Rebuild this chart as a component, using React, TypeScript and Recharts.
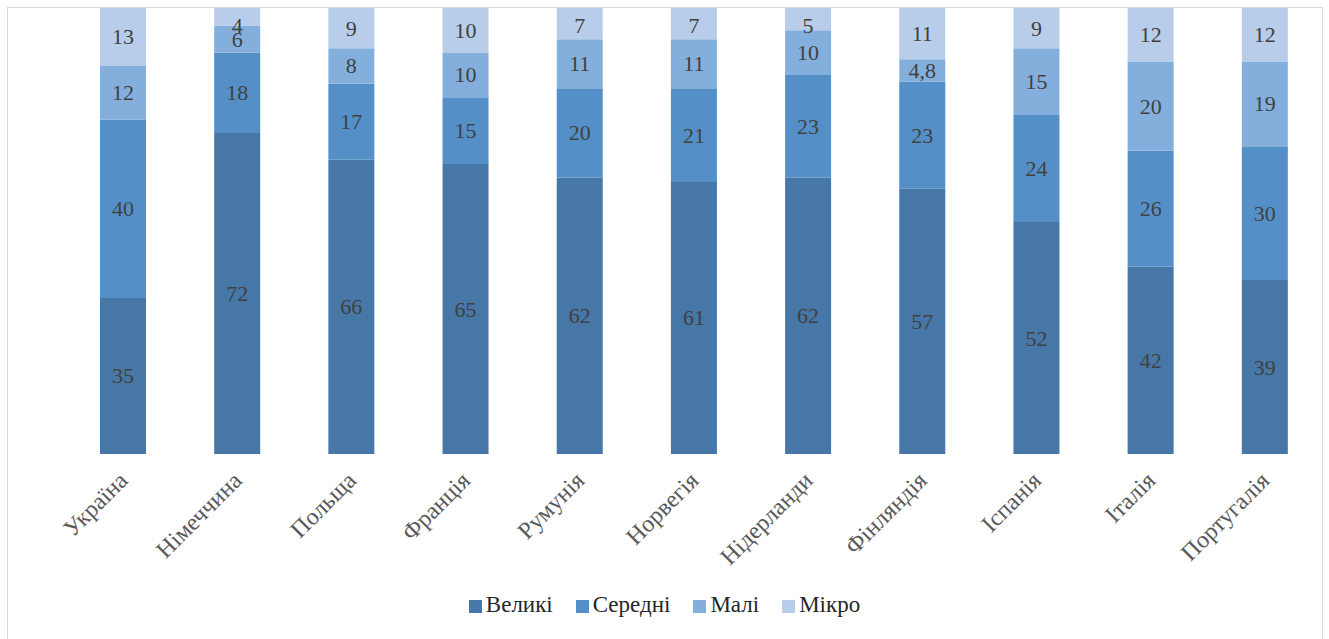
import React from 'react';
import {Bar, BarChart, LabelList, Legend, XAxis, YAxis} from 'recharts';

const countries = ['Україна', 'Німеччина', 'Польща', 'Франція', 'Румунія', 'Норвегія', 'Нідерланди', 'Фінляндія', 'Іспанія', 'Італія', 'Португалія'];
const large = [35, 72, 66, 65, 62, 61, 62, 57, 52, 42, 39];
const medium = [40, 18, 17, 15, 20, 21, 23, 23, 24, 26, 30];
const small = [12, 6, 8, 10, 11, 11, 10, 4.8, 15, 20, 19];
const micro = [13, 4, 9, 10, 7, 7, 5, 11, 9, 12, 12];

const seriesNames = ['Великі', 'Середні', 'Малі', 'Мікро'];
const seriesColors = ['#4677a7', '#5490c7', '#84afdc', '#b7cde9'];

const data = countries.map((name, i) => ({
  name,
  large: large[i],
  medium: medium[i],
  small: small[i],
  micro: micro[i],
}));

const serif = '"Liberation Serif", "DejaVu Serif", serif';
const fmt = (v: any) => String(v).replace('.', ',');

const CountryTick = (props: any) => {
  const {x, payload} = props;
  return (
    <text
      x={0}
      y={0}
      transform={`translate(${x + 6}, ${474}) rotate(-45)`}
      textAnchor="end"
      fill="#595959"
      fontSize={24}
      style={{fontFamily: serif}}
    >
      {payload.value}
    </text>
  );
};

// excel keeps labels inside the plot, so clamp the centre near the top edge
const SegmentLabel = (props: any) => {
  const {x, y, width, height, value} = props;
  const cy = Math.max(y + height / 2, 17);
  return (
    <text
      x={x + width / 2}
      y={cy}
      textAnchor="middle"
      dominantBaseline="central"
      fill="#404040"
      fontSize={22}
      style={{fontFamily: serif}}
    >
      {fmt(value)}
    </text>
  );
};

const keys = ['large', 'medium', 'small', 'micro'];

const App = () => {
  return (
    <div style={{
      position: 'fixed', left: 7, top: 7, width: 1316, height: 660,
      border: '1px solid #d9d9d9', boxSizing: 'border-box', background: '#fff',
    }}>
      <BarChart
        width={1314}
        height={640}
        data={data}
        stackOffset="expand"
        margin={{top: 0, right: 0, bottom: 48, left: 58}}
      >
        <XAxis
          dataKey="name"
          axisLine={false}
          tickLine={false}
          interval={0}
          height={120}
          tick={<CountryTick/>}
        />
        <YAxis hide domain={[0, 1]}/>
        <Legend
          verticalAlign="bottom"
          iconType="square"
          iconSize={13}
          itemSorter={(item: any) => seriesNames.indexOf(item.value)}
          wrapperStyle={{top: 584, left: 40, fontFamily: serif, fontSize: 23}}
          formatter={(value: string) => <span style={{color: '#262626', marginRight: 13}}>{value}</span>}
        />
        {keys.map((k, i) => (
          <Bar
            key={k}
            dataKey={k}
            name={seriesNames[i]}
            stackId="a"
            fill={seriesColors[i]}
            barSize={46}
            isAnimationActive={false}
          >
            <LabelList dataKey={k} content={<SegmentLabel/>}/>
          </Bar>
        ))}
      </BarChart>
    </div>
  );
};

export default App;
